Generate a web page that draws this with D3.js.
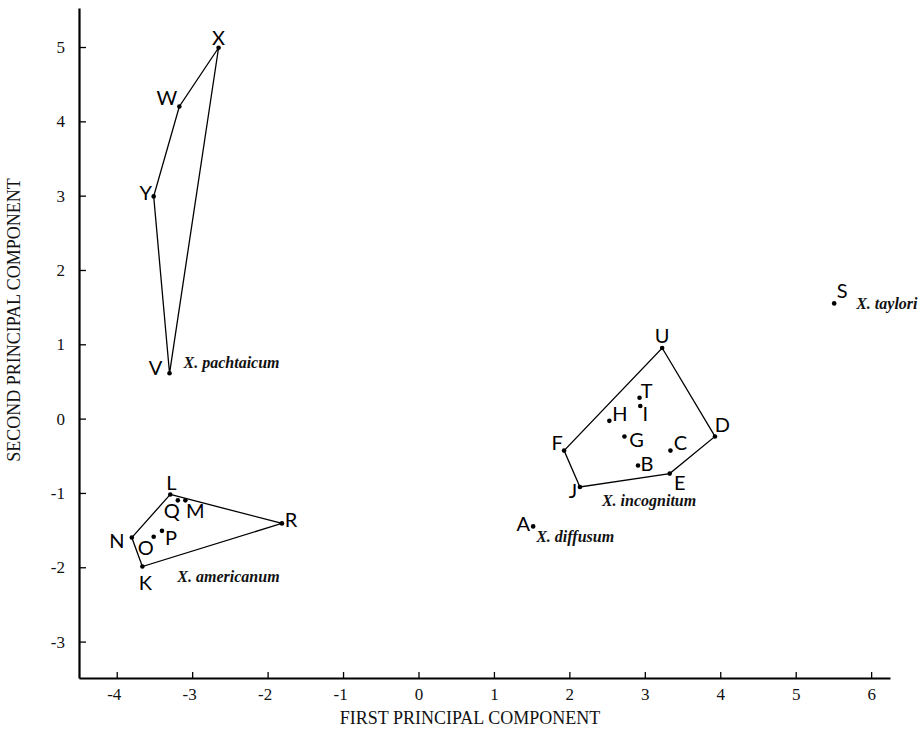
<!DOCTYPE html>
<html>
<head>
<meta charset="utf-8">
<script src="https://cdn.jsdelivr.net/npm/d3@7"></script>
<style>
  html, body { margin: 0; padding: 0; background: #fff; }
  svg { display: block; }
</style>
</head>
<body>
<svg id="chart" width="919" height="735"></svg>
<script>
// ---- data ----
const pointNames = ["X","W","Y","V","L","Q","M","R","N","O","P","K","U","T","I","H","G","D","C","F","B","E","J","A","S"];
const pc1 = [-2.65,-3.17,-3.51,-3.30,-3.29,-3.19,-3.09,-1.81,-3.80,-3.51,-3.40,-3.66,3.23,2.93,2.94,2.53,2.73,3.93,3.34,1.93,2.91,3.33,2.14,1.52,5.51];
const pc2 = [4.99,4.20,2.99,0.61,-1.02,-1.10,-1.10,-1.41,-1.60,-1.59,-1.51,-1.99,0.95,0.28,0.17,-0.03,-0.24,-0.24,-0.43,-0.43,-0.63,-0.74,-0.92,-1.45,1.55];
const hullPachtaicum = ["X","W","Y","V"];
const hullAmericanum = ["L","R","K","N"];
const hullIncognitum = ["U","D","E","J","F"];
const speciesNames = ["X. pachtaicum","X. americanum","X. incognitum","X. diffusum","X. taylori"];
const speciesAnchor = ["V","K","J","A","S"];
const xTicks = [-4,-3,-2,-1,0,1,2,3,4,5,6];
const yTicks = [-3,-2,-1,0,1,2,3,4,5];
const xTitle = "FIRST PRINCIPAL COMPONENT";
const yTitle = "SECOND PRINCIPAL COMPONENT";

// ---- label styling offsets (pixels, relative to dot) ----
const letterOffset = {
  X:[0,-3], W:[-12.5,-1.5], Y:[-8,4], V:[-14,2],
  L:[1,-4], Q:[-6,18], M:[10,18], R:[9,4], N:[-15,10], O:[-8,18], P:[9,14], K:[3,23],
  U:[0,-5], T:[7,0], I:[5,15], H:[10.5,0], G:[12,11], D:[7.5,-4], C:[10,-1], F:[-7,-1],
  B:[9,6], E:[10,16], J:[-7,11], A:[-10,5], S:[8,-5]
};
const speciesOffset = [[14,-5],[35,15],[22,19],[3,16],[22,6]];

const svg = d3.select("#chart");
const x = d3.scaleLinear().domain([-4.5, 6.25]).range([79, 890]);
const y = d3.scaleLinear().domain([-3.49, 5.525]).range([678, 8]);

const pts = pointNames.map((n, i) => ({name: n, x: pc1[i], y: pc2[i]}));
const byName = Object.fromEntries(pts.map(p => [p.name, p]));

const serif = "'Liberation Serif','Times New Roman',serif";

// axes
const xAxis = d3.axisBottom(x).tickValues(xTicks).tickFormat(d => String(d))
  .tickSizeInner(-6).tickSizeOuter(0).tickPadding(10);
const yAxis = d3.axisLeft(y).tickValues(yTicks).tickFormat(d => String(d))
  .tickSizeInner(-7).tickSizeOuter(0).tickPadding(14);

const gx = svg.append("g").attr("transform", "translate(0,678)").call(xAxis);
const gy = svg.append("g").attr("transform", "translate(79,0)").call(yAxis);
[gx, gy].forEach(g => {
  g.select(".domain").attr("stroke", "#000").attr("stroke-width", 2.2);
  g.selectAll(".tick line").attr("stroke", "#000").attr("stroke-width", 1.3);
  g.selectAll(".tick text").attr("fill", "#111")
    .style("font-family", serif).style("font-size", "17px");
});
// negative x labels: digit centred on tick, hyphen hangs left
gx.selectAll(".tick text").attr("dx", d => d < 0 ? -3 : 0);

// axis titles
svg.append("text").attr("x", 470).attr("y", 724).attr("text-anchor", "middle")
  .style("font-family", serif).style("font-size", "18px")
  .attr("fill", "#111").text(xTitle);
svg.append("text").attr("transform", "translate(20,320) rotate(-90)").attr("text-anchor", "middle")
  .style("font-family", serif).style("font-size", "18px")
  .attr("fill", "#111").text(yTitle);

// hulls
const line = d3.line().x(d => x(d.x)).y(d => y(d.y)).curve(d3.curveLinearClosed);
[hullPachtaicum, hullAmericanum, hullIncognitum].forEach(h => {
  svg.append("path").datum(h.map(n => byName[n])).attr("d", line)
    .attr("fill", "none").attr("stroke", "#000").attr("stroke-width", 1.3);
});

// dots
svg.append("g").selectAll("circle").data(pts).join("circle")
  .attr("cx", d => x(d.x)).attr("cy", d => y(d.y)).attr("r", 2.3).attr("fill", "#000");

// letters
svg.append("g").selectAll("text").data(pts).join("text")
  .attr("x", d => x(d.x) + letterOffset[d.name][0])
  .attr("y", d => y(d.y) + letterOffset[d.name][1])
  .attr("text-anchor", "middle")
  .style("font-family", "Lato,'Open Sans',sans-serif").style("font-size", "20px")
  .attr("fill", "#000").text(d => d.name);

// species labels
svg.append("g").selectAll("text").data(speciesNames).join("text")
  .attr("x", (d, i) => x(byName[speciesAnchor[i]].x) + speciesOffset[i][0])
  .attr("y", (d, i) => y(byName[speciesAnchor[i]].y) + speciesOffset[i][1])
  .style("font-family", serif)
  .style("font-style", "italic").style("font-weight", "bold").style("font-size", "16px")
  .attr("fill", "#111").text(d => d);
</script>
</body>
</html>
